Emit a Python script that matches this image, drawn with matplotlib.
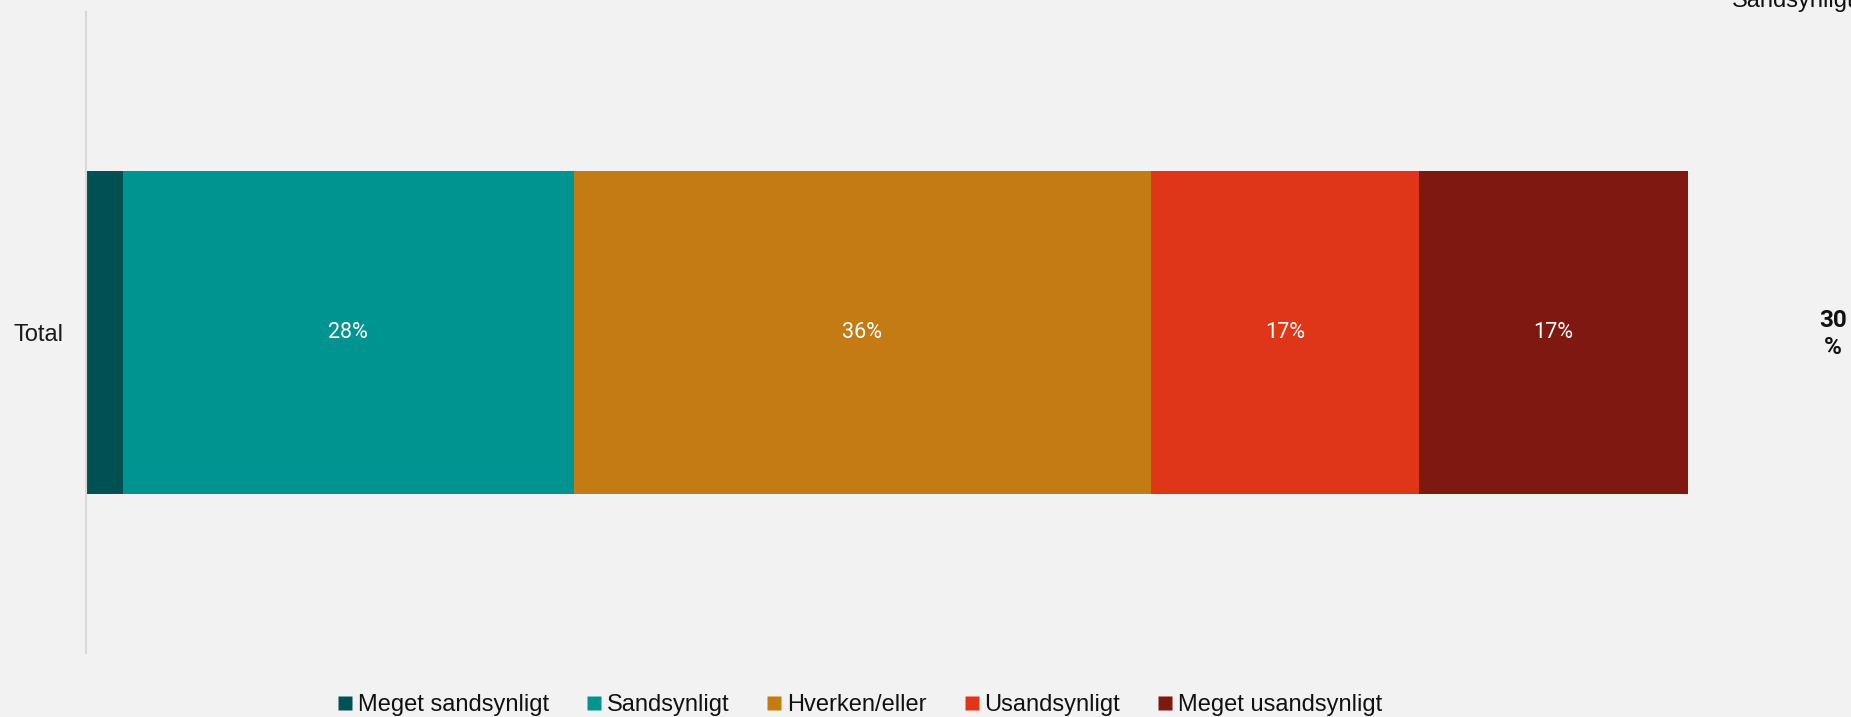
import matplotlib
matplotlib.use("Agg")
import matplotlib.pyplot as plt
from matplotlib.lines import Line2D

categories = ["Total"]
series_names = ["Meget sandsynligt", "Sandsynligt", "Hverken/eller", "Usandsynligt", "Meget usandsynligt"]
values = [2.3, 28.1, 36.0, 16.7, 16.8]
colors = ["#005151", "#009490", "#c47b14", "#df361a", "#801812"]
summary_header = "Sandsynligt"

BG = "#f2f2f2"
fig = plt.figure(figsize=(18.51, 7.17), dpi=100, facecolor=BG)
ax = fig.add_axes([86/1851, 1-653/717, (1690-86)/1851, (653-12)/717])
ax.set_facecolor(BG)

left = 0.0
for name, v, c in zip(series_names, values, colors):
    ax.barh(0, v, left=left, height=0.504, color=c, edgecolor="none")
    if v >= 5:
        ax.text(left + v/2, 0, f"{round(v)}%", ha="center", va="center",
                color="white", fontsize=15.5, family=["Roboto", "DejaVu Sans"])
    left += v

ax.set_xlim(0, 100)
ax.set_ylim(-0.5, 0.5)
ax.set_xticks([])
ax.set_yticks([0])
ax.set_yticklabels(categories, fontsize=17, family=["Liberation Sans", "DejaVu Sans"], color="#1a1a1a")
ax.tick_params(axis="y", length=0, pad=16)
for s in ["top", "right", "bottom"]:
    ax.spines[s].set_visible(False)
ax.spines["left"].set_color("#d9d9d9")
ax.spines["left"].set_linewidth(1.5)

# summary (likely share) on the right
total_likely = round(values[0] + values[1])
fig.text(1833/1851, 1-334/717, f"{total_likely}\n%", ha="center", va="center",
         fontsize=17.5, fontweight="bold", linespacing=1.2,
         family=["Roboto", "DejaVu Sans"], color="#111111")
fig.text(1732/1851, 1-7/717, summary_header, ha="left", va="baseline",
         fontsize=17, family=["Liberation Sans", "DejaVu Sans"], color="#111111")

handles = [Line2D([0], [0], marker="s", linestyle="none", markersize=9.5,
                  markerfacecolor=c, markeredgecolor="none") for c in colors]
leg = fig.legend(handles, series_names, loc="center", bbox_to_anchor=(860/1851, 12/717),
                 ncol=5, frameon=False, handlelength=0.6, handletextpad=0.25,
                 columnspacing=1.6, prop={"family": ["Liberation Sans", "DejaVu Sans"], "size": 17})
for t in leg.get_texts():
    t.set_color("#111111")

fig.savefig("out.png", dpi=100, facecolor=BG)
